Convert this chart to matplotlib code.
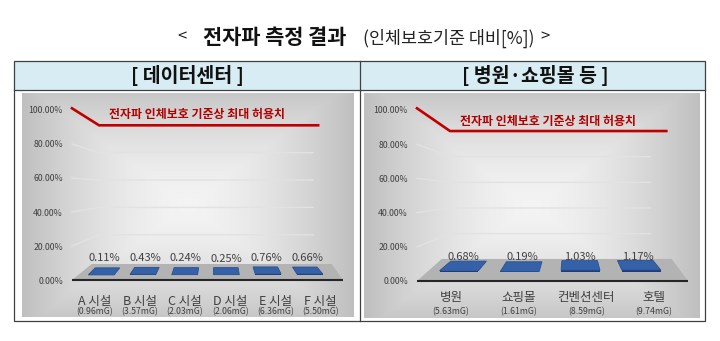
import numpy as np
import matplotlib
matplotlib.use("Agg")
import matplotlib.pyplot as plt
from matplotlib.patches import Polygon, Rectangle

plt.rcParams['font.family'] = ['Noto Sans CJK KR', 'DejaVu Sans']

# 측정값: 인체보호기준 대비 %
dc_sites = ['A 시설', 'B 시설', 'C 시설', 'D 시설', 'E 시설', 'F 시설']
dc_mg = ['(0.96mG)', '(3.57mG)', '(2.03mG)', '(2.06mG)', '(6.36mG)', '(5.50mG)']
dc_pct = [0.11, 0.43, 0.24, 0.25, 0.76, 0.66]

pub_sites = ['병원', '쇼핑몰', '컨벤션센터', '호텔']
pub_mg = ['(5.63mG)', '(1.61mG)', '(8.59mG)', '(9.74mG)']
pub_pct = [0.68, 0.19, 1.03, 1.17]

y_ticks = [0, 20, 40, 60, 80, 100]
limit_pct = 100
limit_label = '전자파 인체보호 기준상 최대 허용치'

W, H = 720, 341

# pseudo-3D layout of each panel (x in category units, y in % at the front plane)
left_geo = dict(
    rect=(72, 110, 343, 280),
    floor_back=(-0.064, 5.25, 9.4),
    bar_front=(-0.429, 5.323), bar_back=(-0.059, 5.013),
    bar_depth=(0.31, 0.75), bar_w=0.62,
    wall=(10.5, 0.805), wall_xl=0.098, grid_xr=4.84, red_xr=4.95,
    note_xy=(2.26, 97.1), label_y=13.2, label_nudge=[0, 0, 0, -0.9, 0, 0],
    name_off=-15.8, mg_off=-23.0,
)
right_geo = dict(
    rect=(417, 110, 688, 281),
    floor_back=(-0.135, 3.26, 12.9),
    bar_front=(-0.5, 3.38), bar_back=(-0.09, 3.09),
    bar_depth=(0.42, 0.86), bar_w=0.64,
    wall=(12.7, 0.75), wall_xl=-0.013, grid_xr=2.94, red_xr=3.18,
    note_xy=(1.43, 93.2), label_y=14.2, label_nudge=[0, 0, 0, 0],
    name_off=-12.2, mg_off=-22.3,
)

fig = plt.figure(figsize=(W / 100, H / 100), dpi=100)

# page background: title, table frame, gradient panels
bg = fig.add_axes([0, 0, 1, 1])
bg.set_xlim(0, W)
bg.set_ylim(H, 0)
bg.axis('off')

bg.text(182, 37, '<', fontsize=12, ha='center', va='center', color='#222222')
bg.text(275, 37, '전자파 측정 결과', fontsize=15, fontweight='bold', ha='center', va='center', color='#111111')
bg.text(449, 38, '(인체보호기준 대비[%])', fontsize=12.5, ha='center', va='center', color='#222222')
bg.text(545, 37, '>', fontsize=12, ha='center', va='center', color='#222222')

bg.add_patch(Rectangle((14, 61), 691, 29, facecolor='#d7edf3', edgecolor='none'))
bg.add_patch(Rectangle((14, 61), 691, 260, facecolor='none', edgecolor='#404040', lw=0.9))
bg.plot([14, 705], [90, 90], color='#404040', lw=0.9)
bg.plot([360, 360], [61, 321], color='#404040', lw=0.9)
bg.text(187, 76, '[ 데이터센터 ]', fontsize=14, fontweight='bold', ha='center', va='center', color='#111111')
bg.text(535, 76, '[ 병원·쇼핑몰 등 ]', fontsize=14, fontweight='bold', ha='center', va='center', color='#111111')


def gradient(nx, ny):
    gx = np.linspace(-1, 1, nx)
    gy = np.linspace(-1, 1, ny)
    dx, dy = np.meshgrid(gx, gy)
    t = np.clip(np.maximum(np.abs(dx), np.abs(dy) * 0.9), 0, 1) ** 1.6
    c0 = np.array([0.955, 0.955, 0.955])
    c1 = np.array([0.75, 0.75, 0.75])
    return c0 + (c1 - c0) * t[..., None]


for x0, y0, x1, y1 in [(22, 93, 354, 317), (364, 93, 700, 318)]:
    bg.imshow(gradient(200, 140), extent=(x0, x1, y1, y0), aspect='auto', interpolation='bilinear')
bg.set_xlim(0, W)
bg.set_ylim(H, 0)


def bar_pt(g, n, x, d, v):
    fl = g['bar_front'][0] + d * (g['bar_back'][0] - g['bar_front'][0])
    fr = g['bar_front'][1] + d * (g['bar_back'][1] - g['bar_front'][1])
    px = fl + (fr - fl) * (x + 0.5) / n
    py = d * g['floor_back'][2] + v * (1 - d * (1 - g['wall'][1]))
    return px, py


def draw_panel(g, names, mgs, values):
    n = len(values)
    x0, ytop, x1, ybot = g['rect']
    ax = fig.add_axes([x0 / W, (H - ybot) / H, (x1 - x0) / W, (ybot - ytop) / H])
    ax.set_xlim(-0.5, n - 0.5)
    ax.set_ylim(0, 100)
    ax.patch.set_alpha(0)
    for s in ax.spines.values():
        s.set_visible(False)
    ax.set_xticks([])
    ax.set_yticks(y_ticks)
    ax.set_yticklabels([f'{t:.2f}%' for t in y_ticks], fontsize=6.3, color='#404040')
    ax.tick_params(axis='y', length=0, pad=6.5)

    c, k = g['wall']
    # back-wall gridlines
    for t in y_ticks[1:-1]:
        yb = c + k * t
        ax.plot([-0.5, g['wall_xl'], g['grid_xr']], [t, yb, yb], color='#e2e2e2', lw=1.0,
                clip_on=False, zorder=1)

    # floor
    bx0, bx1, by = g['floor_back']
    ax.add_patch(Polygon([(-0.5, 0), (n - 0.5, 0), (bx1, by), (bx0, by)], closed=True,
                         facecolor='#b3b3b3', edgecolor='none', clip_on=False, zorder=2))
    ax.plot([-0.5, n - 0.5], [0, 0], color='#262626', lw=1.5, clip_on=False, zorder=3,
            solid_capstyle='butt')

    # flat bars lying on the floor
    d0, d1 = g['bar_depth']
    hw = g['bar_w'] / 2
    for i, v in enumerate(values):
        front = [bar_pt(g, n, i - hw, d0, 0), bar_pt(g, n, i + hw, d0, 0),
                 bar_pt(g, n, i + hw, d0, v), bar_pt(g, n, i - hw, d0, v)]
        top = [bar_pt(g, n, i - hw, d0, v), bar_pt(g, n, i + hw, d0, v),
               bar_pt(g, n, i + hw, d1, v), bar_pt(g, n, i - hw, d1, v)]
        ax.add_patch(Polygon(front, closed=True, facecolor='#1f3d73', edgecolor='none',
                             clip_on=False, zorder=4))
        ax.add_patch(Polygon(top, closed=True, facecolor='#3461a8', edgecolor='#284f8f',
                             lw=0.6, clip_on=False, zorder=5))
        lx, _ = bar_pt(g, n, i, (d0 + d1) / 2, v)
        ax.text(lx, g['label_y'] + g['label_nudge'][i], f'{v:.2f}%', fontsize=8,
                color='#404040', ha='center', va='center', zorder=6)

    # limit line
    yb = c + k * limit_pct
    ax.plot([-0.5, g['wall_xl'], g['red_xr']], [limit_pct + 1, yb, yb], color='#c00000',
            lw=1.9, clip_on=False, zorder=6, solid_joinstyle='miter')
    ax.text(g['note_xy'][0], g['note_xy'][1], limit_label, fontsize=8.6, color='#b00000',
            fontweight='bold', ha='center', va='center', zorder=7)

    for i, (nm, mg) in enumerate(zip(names, mgs)):
        ax.annotate(nm, (i, 0), xytext=(0, g['name_off']), textcoords='offset points',
                    ha='center', va='center', fontsize=9, color='#404040')
        ax.annotate(mg, (i, 0), xytext=(0, g['mg_off']), textcoords='offset points',
                    ha='center', va='center', fontsize=6.3, color='#404040')
    return ax


draw_panel(left_geo, dc_sites, dc_mg, dc_pct)
draw_panel(right_geo, pub_sites, pub_mg, pub_pct)

fig.savefig('out.png', dpi=100)
